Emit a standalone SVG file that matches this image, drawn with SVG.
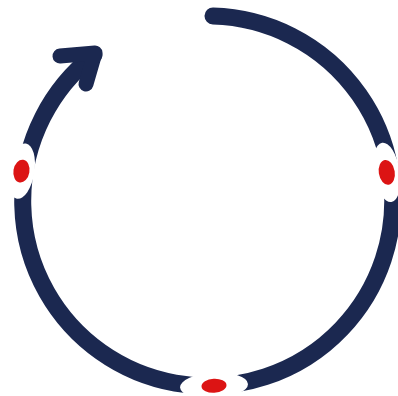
<svg xmlns="http://www.w3.org/2000/svg" width="398" height="396" viewBox="0 0 398 396">
<style>
.arc{fill:none;stroke:#1b2850;stroke-width:17;stroke-linecap:round;stroke-linejoin:round}
.head{fill:none;stroke:#1b2850;stroke-width:15;stroke-linecap:round;stroke-linejoin:round}
.gap{fill:#ffffff}
.dot{fill:#dc1414}
</style>
<rect width="398" height="396" fill="#ffffff"/>
<g id="connectors">
<path class="arc" d="M213 16 A185 185 0 1 1 94 55"/>
<path class="head" d="M60 56 L95 53 L86 84"/>
</g>
<g id="gap-left" transform="rotate(-80.7 204 201)">
<ellipse class="gap" cx="204" cy="16" rx="28" ry="13"/>
<ellipse class="dot" cx="204" cy="16" rx="11.5" ry="8"/>
</g>
<g id="gap-right" transform="rotate(81.1 204 201)">
<ellipse class="gap" cx="204" cy="16" rx="30" ry="13"/>
<ellipse class="dot" cx="204" cy="16" rx="12.5" ry="8"/>
</g>
<g id="gap-bottom" transform="rotate(176.9 204 201)">
<ellipse class="gap" cx="204" cy="16" rx="34" ry="13"/>
<ellipse class="dot" cx="204" cy="16" rx="12.5" ry="7"/>
</g>
</svg>
